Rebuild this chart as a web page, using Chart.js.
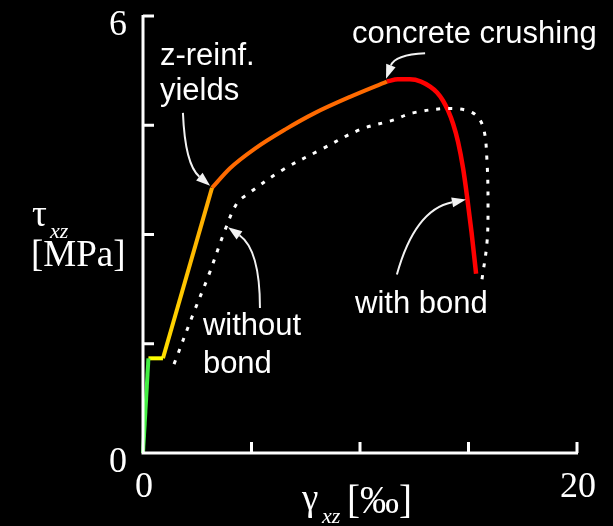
<!DOCTYPE html>
<html>
<head>
<meta charset="utf-8">
<script src="https://cdn.jsdelivr.net/npm/chart.js@4/dist/chart.umd.min.js"></script>
<style>
  body { margin: 0; background: #000; }
  #wrap { width: 613px; height: 526px; }
</style>
</head>
<body>
<div id="wrap"><canvas id="myChart"></canvas></div>
<script>
// shear strain [permille] / shear stress [MPa], "with bond" branches
var elasticX = [0, 0.25];
var elasticY = [0, 1.3];
var plateauX = [0.25, 0.92];
var plateauY = [1.3, 1.3];
var crackedX = [0.92, 3.18];
var crackedY = [1.3, 3.64];
var yieldX = [3.18, 4.01, 5.16, 6.54, 7.93, 9.54, 11.24];
var yieldY = [3.64, 3.91, 4.18, 4.44, 4.67, 4.89, 5.1];
var crushX = [11.24, 11.75, 12.3, 12.81, 13.23, 13.55, 13.82, 14.06, 14.29, 14.52, 14.75, 14.93, 15.14, 15.35];
var crushY = [5.1, 5.13, 5.13, 5.1, 5.03, 4.95, 4.84, 4.7, 4.52, 4.27, 3.91, 3.53, 3.03, 2.46];

// "without bond"
var noBondX = [1.43, 2.3, 3.0, 3.78, 4.33, 4.8, 6.45, 8.16, 10.0, 11.52, 12.44, 14.15, 15.2, 15.67, 15.85, 15.9, 15.85, 15.62];
var noBondY = [1.22, 1.9, 2.42, 3.06, 3.43, 3.55, 3.89, 4.16, 4.44, 4.57, 4.67, 4.73, 4.67, 4.48, 4.02, 3.34, 2.88, 2.38];

var xTicks = [0, 5, 10, 15, 20];
var yTicks = [0, 1.5, 3, 4.5, 6];
var xTickLabels = ['0', '', '', '', '20'];
var yTickLabels = ['0', '', '', '', '6'];

// annotation texts (left, baseline in data units) and arrows (start, control, tip)
var noteText = ['z-reinf.', 'yields', 'concrete crushing', 'without', 'bond', 'with bond'];
var noteX = [0.78, 0.78, 9.63, 2.76, 2.76, 9.77];
var noteY = [5.33, 4.85, 5.63, 1.62, 1.1, 1.92];
var arrowFrom = [[1.84, 4.67], [13.0, 5.49], [5.39, 1.99], [11.7, 2.45]];
var arrowCtrl = [[1.94, 3.96], [11.61, 5.47], [5.39, 2.79], [12.53, 3.34]];
var arrowTo = [[3.09, 3.67], [11.2, 5.14], [3.92, 3.1], [14.88, 3.48]];

function pts(xs, ys) {
  return xs.map(function (x, i) { return { x: x, y: ys[i] }; });
}

function crackedColor(c) {
  var chart = c.chart;
  if (!chart.chartArea) return '#ffbb00';
  var y = chart.scales.y;
  var g = chart.ctx.createLinearGradient(0, y.getPixelForValue(1.3), 0, y.getPixelForValue(3.64));
  g.addColorStop(0, '#ffdd00');
  g.addColorStop(1, '#ffa600');
  return g;
}

var SERIF = '"Liberation Serif", "Times New Roman", serif';
var SANS = '"Liberation Sans", Arial, sans-serif';

var axesPlugin = {
  id: 'axesAndNotes',
  afterDraw: function (chart) {
    var ctx = chart.ctx;
    var sx = chart.scales.x, sy = chart.scales.y;
    var a = chart.chartArea;
    ctx.save();
    ctx.strokeStyle = '#fff';
    ctx.fillStyle = '#fff';
    ctx.lineWidth = 3;
    ctx.lineCap = 'butt';

    // axes lines
    ctx.beginPath();
    ctx.moveTo(a.left, a.top - 1);
    ctx.lineTo(a.left, a.bottom);
    ctx.lineTo(a.right + 1, a.bottom);
    ctx.stroke();

    // inward ticks
    xTicks.forEach(function (v) {
      if (v === 0) return;
      var px = sx.getPixelForValue(v);
      ctx.beginPath();
      ctx.moveTo(px, a.bottom);
      ctx.lineTo(px, a.bottom - 11);
      ctx.stroke();
    });
    yTicks.forEach(function (v) {
      if (v === 0) return;
      var py = sy.getPixelForValue(v);
      ctx.beginPath();
      ctx.moveTo(a.left, py);
      ctx.lineTo(a.left + 11, py);
      ctx.stroke();
    });

    // tick labels
    ctx.font = '36px ' + SERIF;
    ctx.textAlign = 'center';
    ctx.textBaseline = 'alphabetic';
    xTicks.forEach(function (v, i) {
      if (xTickLabels[i]) ctx.fillText(xTickLabels[i], sx.getPixelForValue(v) + 1, a.bottom + 44);
    });
    ctx.textAlign = 'right';
    yTicks.forEach(function (v, i) {
      if (yTickLabels[i]) ctx.fillText(yTickLabels[i], a.left - 16, sy.getPixelForValue(v) + 19);
    });

    // axis titles
    ctx.textAlign = 'left';
    ctx.font = '37px ' + SERIF;
    ctx.fillText('\u03c4', 32, 226);
    ctx.fillText('[MPa]', 31, 266);
    ctx.fillText('\u03b3', 302, 510);
    ctx.font = '39px ' + SERIF;
    ctx.fillText('[\u2030]', 347, 513);
    ctx.font = 'italic 22px ' + SERIF;
    ctx.fillText('xz', 50, 238);
    ctx.fillText('xz', 322, 523);

    // annotation texts
    ctx.font = '31px ' + SANS;
    noteText.forEach(function (t, i) {
      ctx.fillText(t, sx.getPixelForValue(noteX[i]), sy.getPixelForValue(noteY[i]));
    });

    // curved arrows
    ctx.lineWidth = 2;
    ctx.strokeStyle = '#f2f2f2';
    ctx.fillStyle = '#f2f2f2';
    arrowFrom.forEach(function (f, i) {
      var x0 = sx.getPixelForValue(f[0]), y0 = sy.getPixelForValue(f[1]);
      var cx = sx.getPixelForValue(arrowCtrl[i][0]), cy = sy.getPixelForValue(arrowCtrl[i][1]);
      var x1 = sx.getPixelForValue(arrowTo[i][0]), y1 = sy.getPixelForValue(arrowTo[i][1]);
      var ang = Math.atan2(y1 - cy, x1 - cx);
      var len = 14, half = 5;
      var bx = x1 - len * Math.cos(ang), by = y1 - len * Math.sin(ang);
      ctx.beginPath();
      ctx.moveTo(x0, y0);
      ctx.quadraticCurveTo(cx, cy, bx, by);
      ctx.stroke();
      ctx.beginPath();
      ctx.moveTo(x1, y1);
      ctx.lineTo(bx - half * Math.sin(ang), by + half * Math.cos(ang));
      ctx.lineTo(bx + half * Math.sin(ang), by - half * Math.cos(ang));
      ctx.closePath();
      ctx.fill();
    });
    ctx.restore();
  }
};

var ctx = document.getElementById('myChart').getContext('2d');
var chart = new Chart(ctx, {
  type: 'line',
  data: {
    datasets: [
      { data: pts(noBondX, noBondY), borderColor: '#fff', borderWidth: 3, borderDash: [4, 8], tension: 0.35 },
      { data: pts(elasticX, elasticY), borderColor: '#44ee44', borderWidth: 4 },
      { data: pts(plateauX, plateauY), borderColor: '#ffff00', borderWidth: 4 },
      { data: pts(crackedX, crackedY), borderColor: crackedColor, borderWidth: 4 },
      { data: pts(yieldX, yieldY), borderColor: '#ff6a00', borderWidth: 4, cubicInterpolationMode: 'monotone' },
      { data: pts(crushX, crushY), borderColor: '#ff0000', borderWidth: 4.5, cubicInterpolationMode: 'monotone' }
    ]
  },
  options: {
    responsive: true,
    maintainAspectRatio: false,
    animation: false,
    clip: false,
    layout: { padding: { left: 143, right: 36, top: 16, bottom: 73 } },
    elements: { point: { radius: 0 }, line: { fill: false, borderCapStyle: 'butt' } },
    plugins: { legend: { display: false }, tooltip: { enabled: false } },
    scales: {
      x: { type: 'linear', min: 0, max: 20, display: false },
      y: { type: 'linear', min: 0, max: 6, display: false }
    }
  },
  plugins: [axesPlugin]
});
</script>
</body>
</html>
